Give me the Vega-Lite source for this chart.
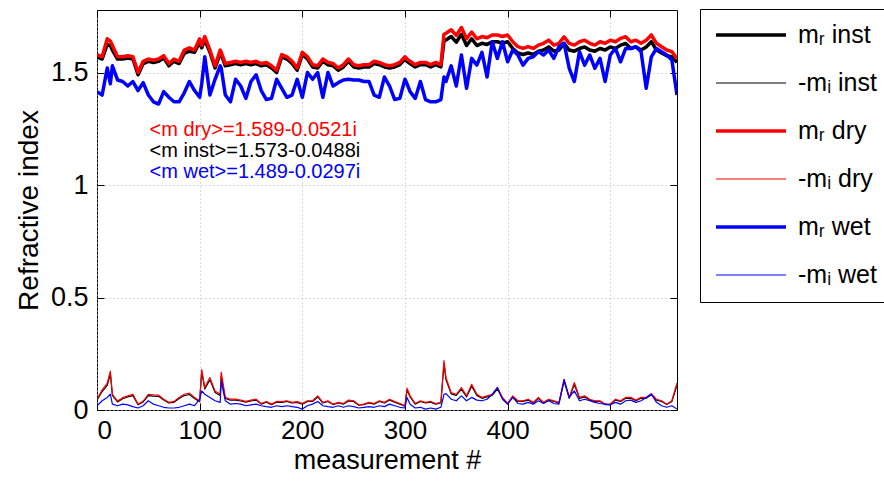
{
  "$schema": "https://vega.github.io/schema/vega-lite/v6.json",
  "width": 580,
  "height": 400,
  "autosize": {"type": "none"},
  "padding": {"left": 97, "top": 10, "right": 207, "bottom": 71},
  "background": "white",
  "config": {
    "font": "Liberation Sans",
    "view": {"stroke": "black", "strokeWidth": 1}
  },
  "resolve": {"axis": {"x": "independent", "y": "independent"}},
  "data": {
    "values": [
      {"x":0,"rd":1.58,"ri":1.57,"rw":1.415,"id":0.048,"ii":0.044,"iw":0.019},
      {"x":5,"rd":1.57,"ri":1.56,"rw":1.40,"id":0.09,"ii":0.082,"iw":0.041},
      {"x":10,"rd":1.65,"ri":1.625,"rw":1.52,"id":0.12,"ii":0.11,"iw":0.056},
      {"x":13,"rd":1.64,"ri":1.62,"rw":1.45,"id":0.173,"ii":0.16,"iw":0.07},
      {"x":15,"rd":1.62,"ri":1.60,"rw":1.53,"id":0.07,"ii":0.065,"iw":0.026},
      {"x":20,"rd":1.57,"ri":1.56,"rw":1.467,"id":0.04,"ii":0.036,"iw":0.019},
      {"x":25,"rd":1.57,"ri":1.56,"rw":1.46,"id":0.055,"ii":0.05,"iw":0.026},
      {"x":30,"rd":1.575,"ri":1.565,"rw":1.44,"id":0.063,"ii":0.058,"iw":0.023},
      {"x":35,"rd":1.57,"ri":1.56,"rw":1.46,"id":0.07,"ii":0.064,"iw":0.015},
      {"x":40,"rd":1.50,"ri":1.49,"rw":1.42,"id":0.026,"ii":0.023,"iw":0.009},
      {"x":45,"rd":1.55,"ri":1.54,"rw":1.455,"id":0.04,"ii":0.036,"iw":0.019},
      {"x":50,"rd":1.56,"ri":1.55,"rw":1.40,"id":0.07,"ii":0.064,"iw":0.041},
      {"x":55,"rd":1.555,"ri":1.545,"rw":1.37,"id":0.067,"ii":0.062,"iw":0.026},
      {"x":60,"rd":1.56,"ri":1.55,"rw":1.36,"id":0.066,"ii":0.061,"iw":0.019},
      {"x":65,"rd":1.575,"ri":1.565,"rw":1.415,"id":0.048,"ii":0.044,"iw":0.012},
      {"x":70,"rd":1.54,"ri":1.53,"rw":1.39,"id":0.034,"ii":0.031,"iw":0.009},
      {"x":75,"rd":1.56,"ri":1.55,"rw":1.37,"id":0.038,"ii":0.034,"iw":0.009},
      {"x":80,"rd":1.55,"ri":1.54,"rw":1.37,"id":0.056,"ii":0.051,"iw":0.012},
      {"x":85,"rd":1.60,"ri":1.585,"rw":1.41,"id":0.07,"ii":0.064,"iw":0.019},
      {"x":90,"rd":1.61,"ri":1.595,"rw":1.46,"id":0.075,"ii":0.069,"iw":0.026},
      {"x":95,"rd":1.60,"ri":1.59,"rw":1.42,"id":0.056,"ii":0.051,"iw":0.019},
      {"x":100,"rd":1.65,"ri":1.635,"rw":1.39,"id":0.041,"ii":0.037,"iw":0.048},
      {"x":102,"rd":1.62,"ri":1.61,"rw":1.45,"id":0.18,"ii":0.17,"iw":0.085},
      {"x":105,"rd":1.66,"ri":1.645,"rw":1.57,"id":0.10,"ii":0.093,"iw":0.07},
      {"x":110,"rd":1.60,"ri":1.59,"rw":1.40,"id":0.144,"ii":0.135,"iw":0.056},
      {"x":115,"rd":1.53,"ri":1.52,"rw":1.47,"id":0.085,"ii":0.078,"iw":0.041},
      {"x":120,"rd":1.60,"ri":1.585,"rw":1.53,"id":0.07,"ii":0.064,"iw":0.034},
      {"x":121,"rd":1.59,"ri":1.58,"rw":1.52,"id":0.168,"ii":0.15,"iw":0.126},
      {"x":125,"rd":1.54,"ri":1.53,"rw":1.40,"id":0.056,"ii":0.051,"iw":0.041},
      {"x":130,"rd":1.545,"ri":1.535,"rw":1.37,"id":0.048,"ii":0.044,"iw":0.026},
      {"x":135,"rd":1.55,"ri":1.54,"rw":1.47,"id":0.048,"ii":0.044,"iw":0.029},
      {"x":140,"rd":1.545,"ri":1.535,"rw":1.44,"id":0.044,"ii":0.04,"iw":0.026},
      {"x":145,"rd":1.55,"ri":1.54,"rw":1.385,"id":0.038,"ii":0.035,"iw":0.019},
      {"x":150,"rd":1.545,"ri":1.535,"rw":1.46,"id":0.044,"ii":0.04,"iw":0.023},
      {"x":155,"rd":1.55,"ri":1.54,"rw":1.49,"id":0.048,"ii":0.044,"iw":0.026},
      {"x":160,"rd":1.54,"ri":1.53,"rw":1.42,"id":0.029,"ii":0.026,"iw":0.019},
      {"x":165,"rd":1.545,"ri":1.535,"rw":1.38,"id":0.038,"ii":0.035,"iw":0.015},
      {"x":170,"rd":1.53,"ri":1.52,"rw":1.385,"id":0.026,"ii":0.024,"iw":0.012},
      {"x":175,"rd":1.51,"ri":1.50,"rw":1.47,"id":0.038,"ii":0.035,"iw":0.019},
      {"x":180,"rd":1.58,"ri":1.57,"rw":1.43,"id":0.037,"ii":0.034,"iw":0.015},
      {"x":185,"rd":1.57,"ri":1.56,"rw":1.39,"id":0.041,"ii":0.038,"iw":0.019},
      {"x":190,"rd":1.55,"ri":1.54,"rw":1.40,"id":0.034,"ii":0.031,"iw":0.015},
      {"x":195,"rd":1.52,"ri":1.51,"rw":1.47,"id":0.037,"ii":0.034,"iw":0.012},
      {"x":200,"rd":1.59,"ri":1.58,"rw":1.39,"id":0.029,"ii":0.026,"iw":0.004},
      {"x":205,"rd":1.57,"ri":1.56,"rw":1.50,"id":0.041,"ii":0.038,"iw":0.019},
      {"x":210,"rd":1.535,"ri":1.525,"rw":1.47,"id":0.041,"ii":0.038,"iw":0.026},
      {"x":215,"rd":1.53,"ri":1.52,"rw":1.50,"id":0.063,"ii":0.058,"iw":0.038},
      {"x":220,"rd":1.56,"ri":1.55,"rw":1.39,"id":0.034,"ii":0.031,"iw":0.019},
      {"x":225,"rd":1.545,"ri":1.535,"rw":1.50,"id":0.041,"ii":0.038,"iw":0.015},
      {"x":230,"rd":1.54,"ri":1.53,"rw":1.44,"id":0.026,"ii":0.024,"iw":0.012},
      {"x":235,"rd":1.52,"ri":1.51,"rw":1.455,"id":0.034,"ii":0.031,"iw":0.019},
      {"x":240,"rd":1.535,"ri":1.525,"rw":1.467,"id":0.029,"ii":0.026,"iw":0.012},
      {"x":245,"rd":1.56,"ri":1.55,"rw":1.47,"id":0.044,"ii":0.04,"iw":0.019},
      {"x":250,"rd":1.535,"ri":1.525,"rw":1.467,"id":0.041,"ii":0.038,"iw":0.015},
      {"x":255,"rd":1.53,"ri":1.52,"rw":1.467,"id":0.023,"ii":0.021,"iw":0.009},
      {"x":260,"rd":1.535,"ri":1.525,"rw":1.46,"id":0.026,"ii":0.024,"iw":0.012},
      {"x":265,"rd":1.535,"ri":1.525,"rw":1.46,"id":0.034,"ii":0.031,"iw":0.015},
      {"x":270,"rd":1.55,"ri":1.54,"rw":1.40,"id":0.029,"ii":0.026,"iw":0.012},
      {"x":275,"rd":1.545,"ri":1.535,"rw":1.39,"id":0.041,"ii":0.038,"iw":0.019},
      {"x":280,"rd":1.535,"ri":1.525,"rw":1.48,"id":0.034,"ii":0.031,"iw":0.015},
      {"x":285,"rd":1.53,"ri":1.52,"rw":1.44,"id":0.048,"ii":0.044,"iw":0.026},
      {"x":290,"rd":1.535,"ri":1.525,"rw":1.38,"id":0.038,"ii":0.035,"iw":0.019},
      {"x":295,"rd":1.545,"ri":1.535,"rw":1.385,"id":0.029,"ii":0.026,"iw":0.012},
      {"x":300,"rd":1.57,"ri":1.56,"rw":1.47,"id":0.019,"ii":0.017,"iw":0.009},
      {"x":302,"rd":1.56,"ri":1.55,"rw":1.45,"id":0.097,"ii":0.09,"iw":0.056},
      {"x":305,"rd":1.55,"ri":1.54,"rw":1.415,"id":0.063,"ii":0.058,"iw":0.026},
      {"x":310,"rd":1.535,"ri":1.525,"rw":1.385,"id":0.029,"ii":0.026,"iw":0.009},
      {"x":315,"rd":1.545,"ri":1.535,"rw":1.46,"id":0.041,"ii":0.038,"iw":0.012},
      {"x":320,"rd":1.545,"ri":1.535,"rw":1.38,"id":0.034,"ii":0.031,"iw":0.004},
      {"x":325,"rd":1.535,"ri":1.525,"rw":1.37,"id":0.038,"ii":0.035,"iw":0.009},
      {"x":330,"rd":1.545,"ri":1.535,"rw":1.37,"id":0.029,"ii":0.026,"iw":0.004},
      {"x":335,"rd":1.535,"ri":1.525,"rw":1.38,"id":0.034,"ii":0.031,"iw":0.012},
      {"x":338,"rd":1.67,"ri":1.64,"rw":1.48,"id":0.22,"ii":0.205,"iw":0.07},
      {"x":340,"rd":1.675,"ri":1.645,"rw":1.46,"id":0.144,"ii":0.134,"iw":0.073},
      {"x":345,"rd":1.69,"ri":1.66,"rw":1.53,"id":0.078,"ii":0.072,"iw":0.048},
      {"x":350,"rd":1.665,"ri":1.635,"rw":1.44,"id":0.07,"ii":0.065,"iw":0.041},
      {"x":355,"rd":1.70,"ri":1.67,"rw":1.578,"id":0.10,"ii":0.093,"iw":0.063},
      {"x":360,"rd":1.65,"ri":1.62,"rw":1.43,"id":0.063,"ii":0.058,"iw":0.041},
      {"x":365,"rd":1.68,"ri":1.65,"rw":1.563,"id":0.114,"ii":0.106,"iw":0.056},
      {"x":370,"rd":1.65,"ri":1.62,"rw":1.533,"id":0.07,"ii":0.065,"iw":0.044},
      {"x":375,"rd":1.66,"ri":1.63,"rw":1.59,"id":0.056,"ii":0.052,"iw":0.041},
      {"x":380,"rd":1.655,"ri":1.625,"rw":1.48,"id":0.063,"ii":0.058,"iw":0.048},
      {"x":385,"rd":1.667,"ri":1.637,"rw":1.637,"id":0.07,"ii":0.065,"iw":0.07},
      {"x":390,"rd":1.667,"ri":1.637,"rw":1.563,"id":0.10,"ii":0.093,"iw":0.10},
      {"x":395,"rd":1.66,"ri":1.63,"rw":1.637,"id":0.056,"ii":0.052,"iw":0.048},
      {"x":400,"rd":1.667,"ri":1.637,"rw":1.548,"id":0.029,"ii":0.027,"iw":0.026},
      {"x":405,"rd":1.637,"ri":1.607,"rw":1.60,"id":0.063,"ii":0.058,"iw":0.056},
      {"x":410,"rd":1.615,"ri":1.587,"rw":1.578,"id":0.041,"ii":0.038,"iw":0.029},
      {"x":415,"rd":1.607,"ri":1.58,"rw":1.533,"id":0.041,"ii":0.038,"iw":0.026},
      {"x":420,"rd":1.615,"ri":1.587,"rw":1.563,"id":0.048,"ii":0.044,"iw":0.034},
      {"x":425,"rd":1.607,"ri":1.58,"rw":1.57,"id":0.034,"ii":0.031,"iw":0.026},
      {"x":430,"rd":1.622,"ri":1.595,"rw":1.593,"id":0.056,"ii":0.052,"iw":0.041},
      {"x":435,"rd":1.63,"ri":1.60,"rw":1.578,"id":0.034,"ii":0.031,"iw":0.029},
      {"x":440,"rd":1.644,"ri":1.614,"rw":1.60,"id":0.048,"ii":0.044,"iw":0.041},
      {"x":445,"rd":1.622,"ri":1.595,"rw":1.563,"id":0.041,"ii":0.038,"iw":0.029},
      {"x":450,"rd":1.63,"ri":1.60,"rw":1.615,"id":0.034,"ii":0.031,"iw":0.026},
      {"x":455,"rd":1.659,"ri":1.629,"rw":1.63,"id":0.136,"ii":0.127,"iw":0.136},
      {"x":460,"rd":1.63,"ri":1.60,"rw":1.519,"id":0.056,"ii":0.052,"iw":0.056},
      {"x":465,"rd":1.622,"ri":1.595,"rw":1.46,"id":0.122,"ii":0.113,"iw":0.085},
      {"x":470,"rd":1.637,"ri":1.607,"rw":1.593,"id":0.056,"ii":0.052,"iw":0.041},
      {"x":475,"rd":1.644,"ri":1.614,"rw":1.533,"id":0.063,"ii":0.058,"iw":0.048},
      {"x":480,"rd":1.63,"ri":1.60,"rw":1.578,"id":0.048,"ii":0.044,"iw":0.041},
      {"x":485,"rd":1.622,"ri":1.595,"rw":1.519,"id":0.041,"ii":0.038,"iw":0.034},
      {"x":490,"rd":1.637,"ri":1.607,"rw":1.563,"id":0.041,"ii":0.038,"iw":0.029},
      {"x":495,"rd":1.63,"ri":1.60,"rw":1.46,"id":0.026,"ii":0.024,"iw":0.026},
      {"x":500,"rd":1.644,"ri":1.614,"rw":1.578,"id":0.026,"ii":0.024,"iw":0.023},
      {"x":505,"rd":1.637,"ri":1.607,"rw":1.607,"id":0.048,"ii":0.044,"iw":0.034},
      {"x":510,"rd":1.652,"ri":1.622,"rw":1.548,"id":0.041,"ii":0.038,"iw":0.026},
      {"x":515,"rd":1.659,"ri":1.629,"rw":1.607,"id":0.056,"ii":0.052,"iw":0.041},
      {"x":520,"rd":1.637,"ri":1.607,"rw":1.607,"id":0.056,"ii":0.052,"iw":0.044},
      {"x":525,"rd":1.644,"ri":1.614,"rw":1.615,"id":0.044,"ii":0.041,"iw":0.034},
      {"x":530,"rd":1.63,"ri":1.60,"rw":1.593,"id":0.056,"ii":0.052,"iw":0.041},
      {"x":535,"rd":1.644,"ri":1.614,"rw":1.43,"id":0.056,"ii":0.052,"iw":0.056},
      {"x":540,"rd":1.667,"ri":1.637,"rw":1.57,"id":0.073,"ii":0.068,"iw":0.07},
      {"x":545,"rd":1.63,"ri":1.60,"rw":1.607,"id":0.048,"ii":0.044,"iw":0.034},
      {"x":550,"rd":1.615,"ri":1.587,"rw":1.593,"id":0.041,"ii":0.038,"iw":0.019},
      {"x":555,"rd":1.60,"ri":1.575,"rw":1.578,"id":0.026,"ii":0.024,"iw":0.012},
      {"x":560,"rd":1.593,"ri":1.57,"rw":1.556,"id":0.041,"ii":0.038,"iw":0.019},
      {"x":565,"rd":1.563,"ri":1.545,"rw":1.40,"id":0.12,"ii":0.11,"iw":0.004}
    ]
  },
  "layer": [
    {
      "transform": [{"fold": ["ri", "ii", "rd", "id", "rw", "iw"], "as": ["series", "value"]}],
      "mark": {"type": "line", "clip": true, "strokeJoin": "round"},
      "encoding": {
        "x": {
          "field": "x", "type": "quantitative",
          "scale": {"domain": [0, 565], "nice": false, "zero": false},
          "axis": {
            "orient": "bottom",
            "title": "measurement #", "titleFontSize": 27, "titleFontWeight": "normal", "titleColor": "black", "titlePadding": 4,
            "values": [0, 100, 200, 300, 400, 500], "labelFontSize": 26, "labelColor": "black", "labelPadding": 14,
            "domain": false, "tickColor": "black", "tickSize": -7,
            "grid": true, "gridColor": "#b4b4b4", "gridDash": [1, 3], "gridWidth": 1
          }
        },
        "y": {
          "field": "value", "type": "quantitative",
          "scale": {"domain": [0, 1.778], "nice": false, "zero": false},
          "axis": {
            "orient": "left",
            "title": "Refractive index", "titleFontSize": 28, "titleFontWeight": "normal", "titleColor": "black", "titlePadding": 7,
            "values": [0, 0.5, 1, 1.5], "format": "~g", "labelFontSize": 27, "labelColor": "black", "labelPadding": 16,
            "domain": false, "tickColor": "black", "tickSize": -7,
            "grid": true, "gridColor": "#b4b4b4", "gridDash": [1, 3], "gridWidth": 1
          }
        },
        "color": {
          "field": "series", "type": "nominal",
          "scale": {"domain": ["ri", "ii", "rd", "id", "rw", "iw"], "range": ["#000000", "#000000", "#ff0000", "#ff0000", "#0000ff", "#0000ff"]},
          "legend": {
            "title": null, "orient": "none", "legendX": 603, "legendY": -1,
            "symbolType": "stroke", "symbolSize": 4900, "clipHeight": 24, "labelFontSize": 25, "labelColor": "black", "labelOffset": 10,
            "padding": 14, "rowPadding": 23, "strokeColor": "black", "fillColor": "white", "cornerRadius": 0,
            "labelExpr": "{'ri':'mᵣ inst','ii':'-mᵢ inst','rd':'mᵣ dry','id':'-mᵢ dry','rw':'mᵣ wet','iw':'-mᵢ wet'}[datum.value]"
          }
        },
        "strokeWidth": {
          "field": "series", "type": "nominal",
          "scale": {"type": "ordinal", "domain": ["ri", "ii", "rd", "id", "rw", "iw"], "range": [3.5, 1.2, 3.5, 1.2, 3.5, 1.2]},
          "legend": {
            "title": null, "orient": "none", "legendX": 603, "legendY": -1,
            "symbolType": "stroke", "symbolSize": 4900, "clipHeight": 24, "labelFontSize": 25, "labelColor": "black", "labelOffset": 10,
            "padding": 14, "rowPadding": 23, "strokeColor": "black", "fillColor": "white", "cornerRadius": 0,
            "labelExpr": "{'ri':'mᵣ inst','ii':'-mᵢ inst','rd':'mᵣ dry','id':'-mᵢ dry','rw':'mᵣ wet','iw':'-mᵢ wet'}[datum.value]"
          }
        }
      }
    },
    {
      "data": {"values": [{}]},
      "mark": {"type": "text", "align": "left", "baseline": "middle", "fontSize": 20, "color": "#ff0000"},
      "encoding": {
        "x": {"datum": 51.2, "type": "quantitative", "axis": {"orient": "top", "title": null, "labels": false, "values": [0, 100, 200, 300, 400, 500], "domain": false, "grid": false, "tickColor": "black", "tickSize": -7}},
        "y": {"datum": 1.246, "type": "quantitative", "axis": {"orient": "right", "title": null, "labels": false, "values": [0, 0.5, 1, 1.5], "domain": false, "grid": false, "tickColor": "black", "tickSize": -7}},
        "text": {"value": "<m dry>=1.589-0.0521i"}
      }
    },
    {
      "data": {"values": [{}]},
      "mark": {"type": "text", "align": "left", "baseline": "middle", "fontSize": 20, "color": "#000000"},
      "encoding": {
        "x": {"datum": 51.2, "type": "quantitative", "axis": null},
        "y": {"datum": 1.152, "type": "quantitative", "axis": null},
        "text": {"value": "<m inst>=1.573-0.0488i"}
      }
    },
    {
      "data": {"values": [{}]},
      "mark": {"type": "text", "align": "left", "baseline": "middle", "fontSize": 20, "color": "#0000ff"},
      "encoding": {
        "x": {"datum": 51.2, "type": "quantitative", "axis": null},
        "y": {"datum": 1.058, "type": "quantitative", "axis": null},
        "text": {"value": "<m wet>=1.489-0.0297i"}
      }
    }
  ]
}
